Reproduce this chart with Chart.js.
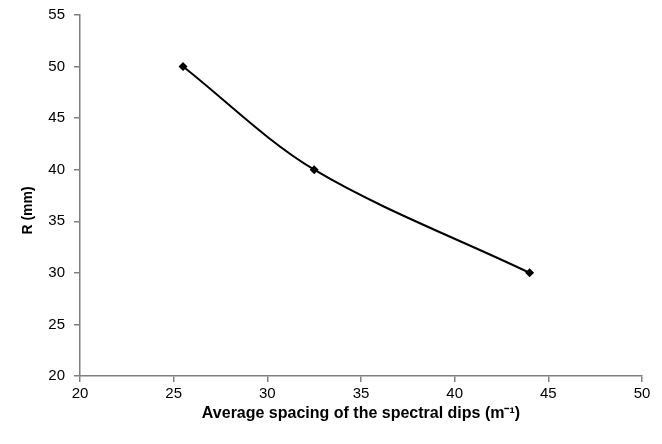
<!DOCTYPE html>
<html>
<head>
<meta charset="utf-8">
<script src="https://cdn.jsdelivr.net/npm/chart.js@4.4.1/dist/chart.umd.min.js"></script>
<style>
html,body{margin:0;padding:0;background:#fff;}
#wrap{width:662px;height:444px;}
</style>
</head>
<body>
<div id="wrap"><canvas id="c" width="662" height="444"></canvas></div>
<script>
const spacing = [25.5, 32.5, 44];
const radius = [50, 40, 30];
const xTicks = [20, 25, 30, 35, 40, 45, 50];
const yTicks = [20, 25, 30, 35, 40, 45, 50, 55];
const xTitle = 'Average spacing of the spectral dips (m\u207B\u00B9)';
const yTitle = 'R (mm)';

const pts = spacing.map((x, i) => ({x: x, y: radius[i]}));
const axisColor = '#7f7f7f';
const fam = '"Liberation Sans", Arial, sans-serif';
const font = {family: fam, size: 15};
const titleFont = {family: fam, size: 16, weight: 'bold'};

// draws the y-axis title (real canvas text) slightly below the axis centre, as in the reference
const yTitlePlugin = {
  id: 'yTitle',
  afterDraw(chart) {
    const ctx = chart.ctx;
    const a = chart.chartArea;
    ctx.save();
    ctx.translate(28, (a.top + a.bottom) / 2 + 15);
    ctx.rotate(-Math.PI / 2);
    ctx.font = 'bold 14px ' + fam;
    ctx.fillStyle = '#000';
    ctx.textAlign = 'center';
    ctx.textBaseline = 'middle';
    ctx.fillText(yTitle, 0, 0);
    ctx.restore();
  }
};

new Chart(document.getElementById('c'), {
  type: 'scatter',
  data: {
    datasets: [{
      data: pts,
      showLine: true,
      borderColor: '#000',
      borderWidth: 2,
      tension: 0.33,
      pointStyle: 'rectRot',
      pointRadius: 4.5,
      pointBackgroundColor: '#000',
      pointBorderColor: '#000',
      pointBorderWidth: 0
    }]
  },
  options: {
    responsive: false,
    animation: false,
    devicePixelRatio: 1,
    layout: {padding: {top: 15, right: 20, left: 0, bottom: 21}},
    plugins: {legend: {display: false}, tooltip: {enabled: false}},
    scales: {
      x: {
        type: 'linear', min: xTicks[0], max: xTicks[xTicks.length - 1],
        afterBuildTicks: s => { s.ticks = xTicks.map(v => ({value: v})); },
        afterFit: s => { s.height = 47; s.paddingLeft = 0; s.paddingRight = 0; },
        grid: {drawOnChartArea: false, drawTicks: true, tickLength: 6, color: axisColor, lineWidth: 1.5},
        border: {color: axisColor, width: 1.5},
        ticks: {color: '#000', font: font, padding: 3, maxRotation: 0},
        title: {display: true, text: xTitle, color: '#000', font: titleFont, padding: {top: 2, bottom: 0}}
      },
      y: {
        type: 'linear', min: yTicks[0], max: yTicks[yTicks.length - 1],
        afterBuildTicks: s => { s.ticks = yTicks.map(v => ({value: v})); },
        afterFit: s => { s.width = 80; s.paddingTop = 0; s.paddingBottom = 0; },
        grid: {drawOnChartArea: false, drawTicks: true, tickLength: 6, color: axisColor, lineWidth: 1.5},
        border: {color: axisColor, width: 1.5},
        ticks: {color: '#000', font: font, padding: 9},
        title: {display: false, text: yTitle}
      }
    }
  },
  plugins: [yTitlePlugin]
});
</script>
</body>
</html>
